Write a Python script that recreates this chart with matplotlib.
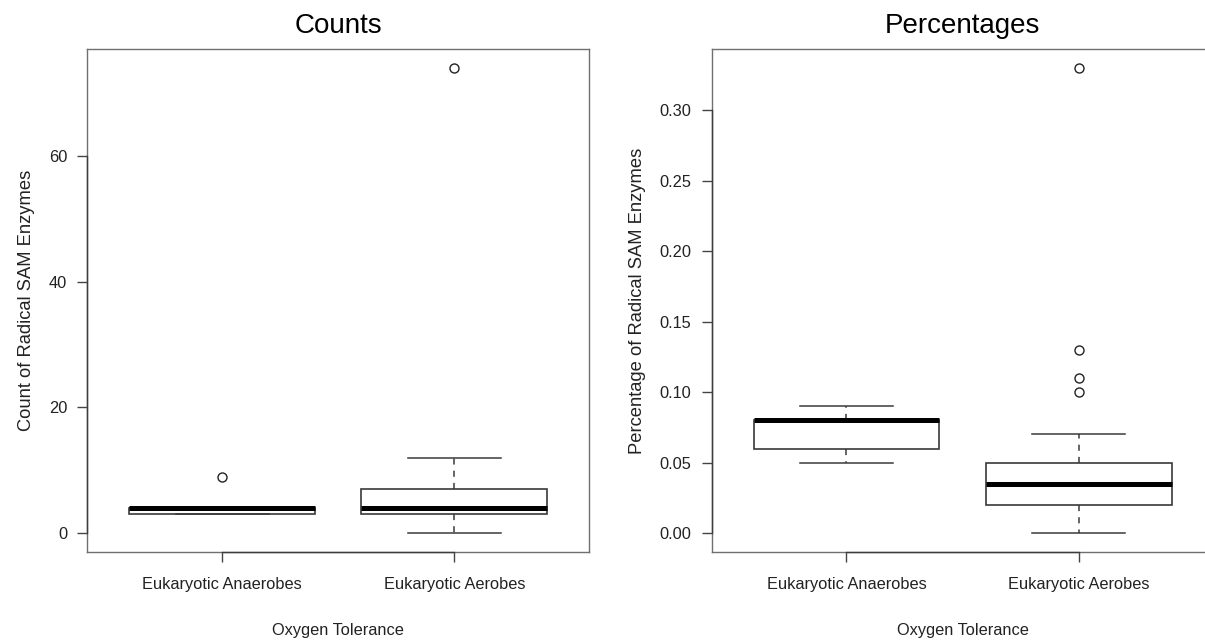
import numpy as np
import matplotlib
matplotlib.use("Agg")
import matplotlib.pyplot as plt

plt.rcParams['font.family'] = ['Liberation Sans', 'DejaVu Sans']

groups = ["Eukaryotic Anaerobes", "Eukaryotic Aerobes"]

# counts panel
count_lo = [3, 0]
count_q1 = [3, 3]
count_med = [4, 4]
count_q3 = [4, 7]
count_hi = [4, 12]
count_out = [[9], [74]]

# percentages panel
pct_lo = [0.05, 0.0]
pct_q1 = [0.06, 0.02]
pct_med = [0.08, 0.035]
pct_q3 = [0.08, 0.05]
pct_hi = [0.09, 0.07]
pct_out = [[], [0.10, 0.11, 0.13, 0.33]]

def make_stats(lo, q1, med, q3, hi, out):
	stats = []
	for i in range(len(groups)):
		stats.append(dict(label=groups[i], whislo=lo[i], q1=q1[i], med=med[i],
						  q3=q3[i], whishi=hi[i], fliers=out[i]))
	return stats

def draw_panel(ax, stats, title, ylabel, yticks, fmt):
	edge = "#3a3a3a"
	ax.bxp(stats, positions=[1, 2], widths=0.8, patch_artist=True,
		   boxprops=dict(facecolor="white", edgecolor=edge, linewidth=1.2),
		   medianprops=dict(color="black", linewidth=3.6, solid_capstyle="butt"),
		   whiskerprops=dict(color=edge, linewidth=1.1, linestyle=(0, (4, 4))),
		   capprops=dict(color=edge, linewidth=1.1),
		   flierprops=dict(marker="o", markersize=6.5, markerfacecolor="none",
						   markeredgecolor="#222222", markeredgewidth=1.0))
	ax.set_xlim(0.42, 2.58)
	lo = min(min(s["whislo"] for s in stats), 0)
	hi = max([s["whishi"] for s in stats] + [max(s["fliers"]) for s in stats if len(s["fliers"])])
	pad = 0.04 * (hi - lo)
	ax.set_ylim(lo - pad, hi + pad)
	ax.set_yticks(yticks)
	ax.set_yticklabels([fmt % v for v in yticks])
	ax.set_xticks([1, 2])
	ax.set_xticklabels(groups)
	ax.tick_params(axis="both", direction="out", length=7.5, width=1.0, color="#444444",
				   labelsize=11.8, labelcolor="#222222")
	ax.tick_params(axis="y", pad=7)
	ax.tick_params(axis="x", pad=11)
	for sp in ax.spines.values():
		sp.set_color("#707070")
		sp.set_linewidth(1.0)
	# R draws the axis line only between the first and last tick, over the box
	ax.plot([1, 2], [lo - pad, lo - pad], color="#3c3c3c", lw=1.0, clip_on=False,
			zorder=5, snap=True)
	ax.plot([0.42, 0.42], [yticks[0], yticks[-1]], color="#3c3c3c", lw=1.0, clip_on=False,
			zorder=5, snap=True)
	ax.set_title(title, fontsize=20, pad=12)
	ax.set_xlabel("Oxygen Tolerance", fontsize=11.8, labelpad=22, color="#222222")
	ax.set_ylabel(ylabel, fontsize=13.2, labelpad=10, color="#222222")

fig = plt.figure(figsize=(12.05, 6.44), dpi=100)
ax1 = fig.add_axes([0.0724, 0.1433, 0.4166, 0.780])
ax2 = fig.add_axes([0.5906, 0.1433, 0.4166, 0.780])

draw_panel(ax1, make_stats(count_lo, count_q1, count_med, count_q3, count_hi, count_out),
		   "Counts", "Count of Radical SAM Enzymes", [0, 20, 40, 60], "%d")
draw_panel(ax2, make_stats(pct_lo, pct_q1, pct_med, pct_q3, pct_hi, pct_out),
		   "Percentages", "Percentage of Radical SAM Enzymes",
		   [0.0, 0.05, 0.10, 0.15, 0.20, 0.25, 0.30], "%.2f")

fig.savefig("out.png", dpi=100)
